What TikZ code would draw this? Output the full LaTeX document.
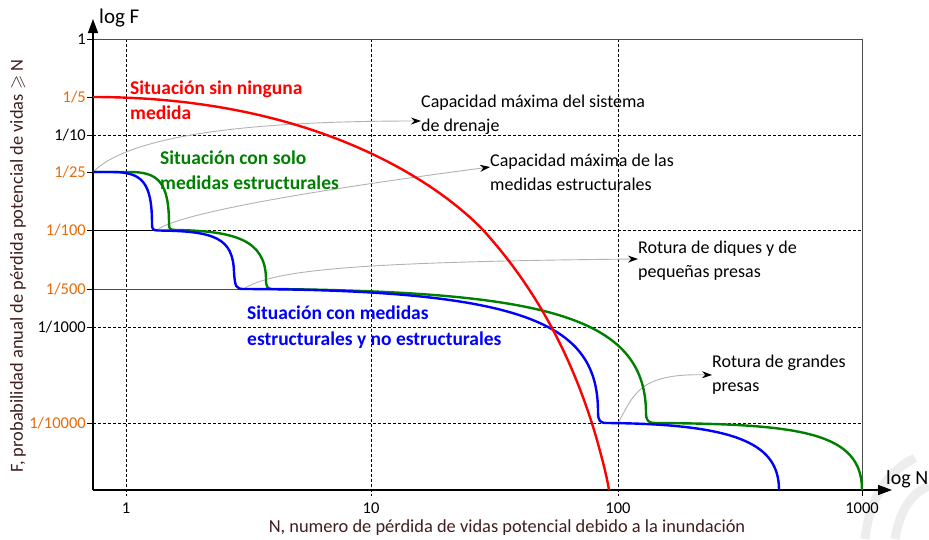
\documentclass[tikz,border=0pt]{standalone}
\usepackage{amssymb}
\usepackage{fontspec}
\setmainfont{Carlito}
\usepackage{tikz}
\usetikzlibrary{arrows.meta}
\definecolor{orangeF}{RGB}{228,108,10}
\definecolor{brownF}{RGB}{64,30,30}
\definecolor{greenF}{RGB}{0,128,0}
\tikzstyle{gridline}=[densely dashed,line width=0.7pt]
\tikzstyle{tick}=[line width=0.8pt]
\tikzstyle{ylab}=[anchor=east,inner sep=0pt,font=\fontsize{16.5}{19}\selectfont]
\tikzstyle{ylabor}=[ylab,text=orangeF]
\tikzstyle{xlab}=[inner sep=0pt,font=\fontsize{16.5}{19}\selectfont]
\tikzstyle{note}=[anchor=west,align=left,inner sep=0pt,font=\fontsize{18}{24}\selectfont]
\tikzstyle{caselab}=[anchor=west,align=left,inner sep=0pt,font=\fontsize{19.5}{25.5}\selectfont\bfseries]
\tikzstyle{pointer}=[draw=black!30,line width=0.9pt,-{Stealth[black,length=10pt,width=7pt]}]
\tikzstyle{axis}=[line width=1.3pt,-{Triangle[length=14pt,width=10pt]}]
\tikzstyle{fn}=[line width=2.4pt,line join=round]

\begin{document}
\begin{tikzpicture}[x=1pt,y=-1pt]
\useasboundingbox (0,0) rectangle (929,539);
% watermark
\draw[black!7,line width=9pt] (865,539) .. controls (870,495) and (890,470) .. (915,458);
\draw[black!7,line width=9pt] (895,539) .. controls (899,512) and (912,492) .. (929,486);

% grid
\draw[gridline] (93,135) -- (862,135);
\draw[gridline] (93,230) -- (862,230);
\draw[gridline] (93,327) -- (862,327);
\draw[gridline] (93,423) -- (862,423);
\draw[gridline] (126,39) -- (126,496);
\draw[gridline] (371,39) -- (371,496);
\draw[gridline] (618,39) -- (618,496);
\draw[line width=0.8pt] (93,230) -- (157,230);
\draw[black!70,line width=0.8pt] (93,289) -- (243,289);
\draw[black!70,line width=1pt] (93,39) -- (862,39) -- (862,490);

% axes
\coordinate (O) at (93,490);
\coordinate (ytop) at (93,19);
\coordinate (xend) at (892,490);
\draw[axis] (O) -- (ytop);
\draw[axis] (O) -- (xend);
\node[anchor=west,inner sep=0pt,font=\fontsize{21}{24}\selectfont] (logF) at (99,18) {log F};
\node[anchor=west,inner sep=0pt,font=\fontsize{20}{24}\selectfont] (logN) at (886,479) {log N};

% y ticks
\draw[tick] (87,39) -- (93,39);
\draw[tick] (87,97) -- (93,97);
\draw[tick] (87,135) -- (93,135);
\draw[tick] (87,172) -- (93,172);
\draw[tick] (87,230) -- (93,230);
\draw[tick] (87,289) -- (93,289);
\draw[tick] (87,327) -- (93,327);
\draw[tick] (87,423) -- (93,423);
\node[ylab] (f1) at (86,39) {1};
\node[ylabor] (f5) at (86,97) {1/5};
\node[ylab] (f10) at (86,135) {1/10};
\node[ylabor] (f25) at (86,172) {1/25};
\node[ylabor] (f100) at (86,230) {1/100};
\node[ylabor] (f500) at (86,289) {1/500};
\node[ylab] (f1000) at (86,327) {1/1000};
\node[ylabor] (f10000) at (86,423) {1/10000};

% x ticks
\draw[tick] (862,490) -- (862,496);
\node[xlab] (n1) at (126,508) {1};
\node[xlab] (n10) at (371,508) {10};
\node[xlab] (n100) at (618,508) {100};
\node[xlab] (n1000) at (862,508) {1000};

% axis titles
\node[text=brownF,font=\fontsize{18.4}{21}\selectfont] (xtitle) at (507,528) {N, numero de pérdida de vidas potencial debido a la inundación};
\node[text=brownF,font=\fontsize{18.4}{21}\selectfont,rotate=90] (ytitle) at (18,266) {F, probabilidad anual de pérdida potencial de vidas $\geqslant$ N};

% notes
\coordinate (drenfrom) at (93,172);
\coordinate (estrfrom) at (157,230);
\coordinate (diqfrom) at (243,289);
\coordinate (presfrom) at (618,423);
\node[note] (capdren) at (421,115) {Capacidad máxima del sistema\\de drenaje};
\node[note] (capestr) at (490,172) {Capacidad máxima de las\\medidas estructurales};
\node[note] (rotdiq) at (638,261) {Rotura de diques y de\\pequeñas presas};
\node[note] (rotpres) at (712,375) {Rotura de grandes\\presas};
\draw[pointer] (drenfrom) .. controls (130,135) and (250,121) .. ([yshift=-6pt]capdren.west);
\draw[pointer] (estrfrom) .. controls (178,214) and (300,192) .. ([yshift=5pt]capestr.west);
\draw[pointer] (diqfrom) .. controls (272,272) and (330,262) .. ([yshift=2pt]rotdiq.west);
\draw[pointer] (presfrom) .. controls (634,395) and (638,373) .. ([yshift=0pt]rotpres.west);

% curves
\draw[fn,greenF] (93,172) -- (130,172) .. controls (158,172) and (169,182) .. (169,224)
  .. controls (169,229) and (170,230) .. (176,230)
  .. controls (235,231) and (265,240) .. (266,278)
  .. controls (266,288) and (267,289) .. (274,289)
  .. controls (540,292) and (645,315) .. (646,412)
  .. controls (646,421) and (648,423) .. (656,423)
  .. controls (800,424) and (862,432) .. (862,490);
\draw[fn,blue] (93,172) -- (112,172) .. controls (142,172) and (152,182) .. (152,224)
  .. controls (152,229) and (153,230.5) .. (158,230.5)
  .. controls (215,231) and (233,238) .. (234,272)
  .. controls (235,287) and (236,289) .. (244,289)
  .. controls (530,290) and (598,325) .. (598,412)
  .. controls (598,421) and (600,423) .. (607,423)
  .. controls (740,424) and (779,445) .. (779,490);
\draw[fn,red] (93,97) .. controls (320,97) and (442,187) .. (483,230)
  .. controls (535,287) and (573,357) .. (597,440)
  .. controls (601,455) and (606,472) .. (609,490);

% case labels
\node[caselab,text=red] (sinmed) at (130,100) {Situación sin ninguna\\medida};
\node[caselab,text=greenF] (solest) at (160,170) {Situación con solo\\medidas estructurales};
\node[caselab,text=blue] (conest) at (247,327) {Situación con medidas\\estructurales y no estructurales};
\end{tikzpicture}
\end{document}
